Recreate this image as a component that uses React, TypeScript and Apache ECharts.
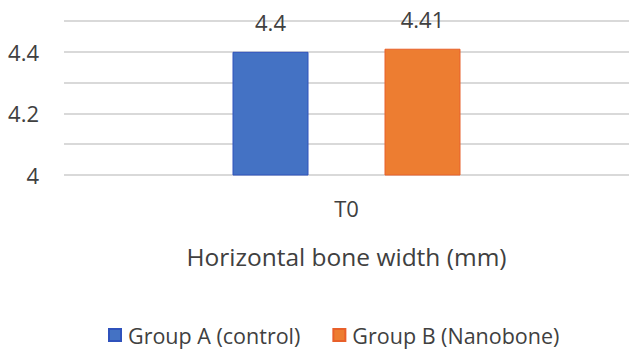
import React, { useEffect, useRef } from "react";
import * as echarts from "echarts";

// Chart data
const categories = ["T0"];
const seriesNames = ["Group A (control)", "Group B (Nanobone)"];
const groupA = [4.4];
const groupB = [4.41];
const labeledTicks = [4, 4.2, 4.4];
const axisTitle = "Horizontal bone width (mm)";

const FONT = "'Open Sans', 'Noto Sans', sans-serif";
const TEXT = "#404040";

export default function App() {
  const ref = useRef<HTMLDivElement>(null);

  useEffect(() => {
    if (!ref.current) return;
    const chart = echarts.init(ref.current, undefined, { renderer: "svg" });
    chart.setOption({
      animation: false,
      backgroundColor: "#ffffff",
      textStyle: { fontFamily: FONT, color: TEXT },
      // the plot runs a little past the right edge, as the gridlines do
      grid: { left: 64, width: 577, top: 21, height: 154, containLabel: false },
      xAxis: {
        type: "category",
        data: categories,
        axisLine: { show: false },
        axisTick: { show: false },
        axisLabel: { color: TEXT, fontSize: 22, fontFamily: FONT, margin: 22 },
        name: axisTitle,
        nameLocation: "middle",
        nameGap: 69,
        nameTextStyle: { color: TEXT, fontSize: 24.5, fontFamily: FONT },
      },
      yAxis: {
        type: "value",
        min: 4,
        max: 4.5,
        interval: 0.1,
        axisLine: { show: false },
        axisTick: { show: false },
        splitLine: { lineStyle: { color: "#d9d9d9", width: 2 } },
        axisLabel: {
          color: TEXT,
          fontSize: 22,
          fontFamily: FONT,
          margin: 25,
          padding: [10, 0, 0, 0],
          formatter: (v: number) =>
            labeledTicks.some((t) => Math.abs(t - v) < 1e-6) ? String(Math.round(v * 10) / 10) : "",
        },
      },
      legend: {
        left: 103,
        top: 319,
        icon: "rect",
        itemWidth: 12,
        itemHeight: 12,
        itemGap: 32,
        textStyle: { color: TEXT, fontSize: 21.5, fontFamily: FONT, padding: [0, 0, 0, 2] },
        data: seriesNames,
      },
      series: [
        {
          name: seriesNames[0],
          type: "bar",
          data: groupA,
          barWidth: 76,
          barGap: "100%",
          itemStyle: { color: "#4472C4", borderColor: "#2F52BC", borderWidth: 1 },
          label: { show: true, position: "top", distance: 19, color: TEXT, fontSize: 22, fontFamily: FONT },
        },
        {
          name: seriesNames[1],
          type: "bar",
          data: groupB,
          barWidth: 76,
          itemStyle: { color: "#ED7D31", borderColor: "#E8602A", borderWidth: 1 },
          label: { show: true, position: "top", distance: 19, color: TEXT, fontSize: 22, fontFamily: FONT },
        },
      ],
    });
    return () => chart.dispose();
  }, []);

  return (
    <div
      ref={ref}
      style={{ position: "fixed", left: 0, top: 0, width: 629, height: 351, background: "#fff" }}
    />
  );
}
